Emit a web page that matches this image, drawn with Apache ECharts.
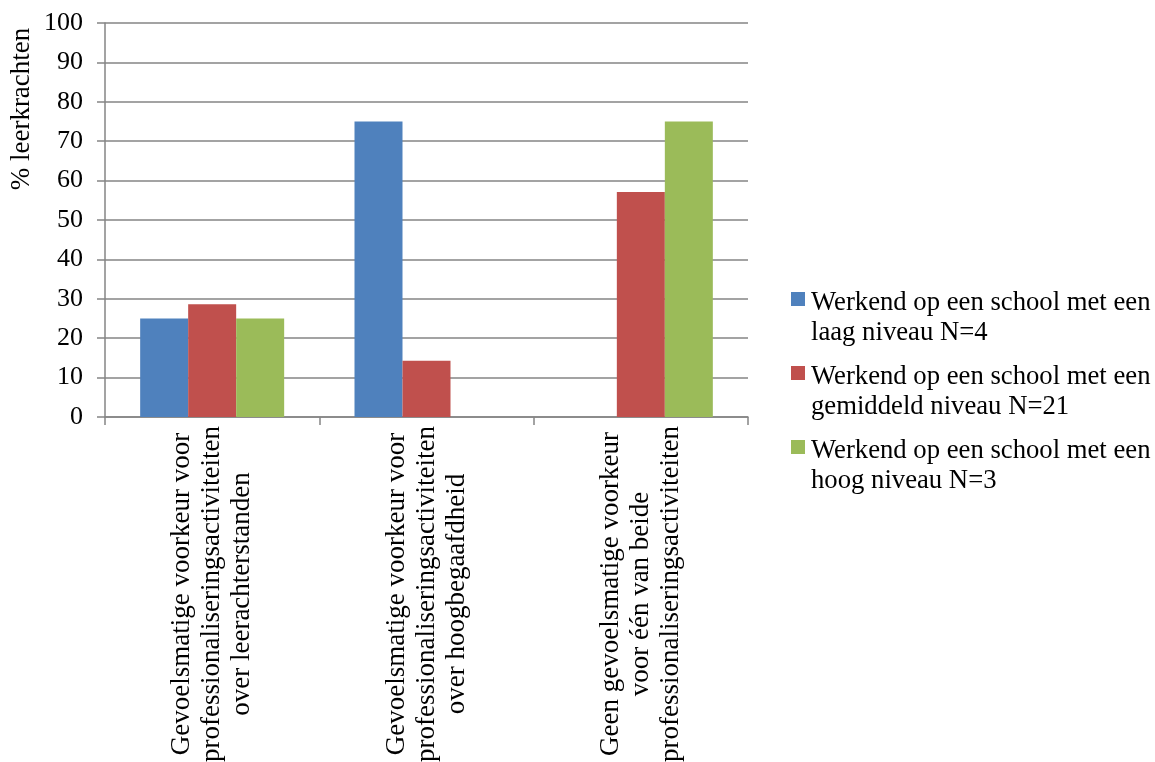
<!DOCTYPE html>
<html>
<head>
<meta charset="utf-8">
<script src="https://cdn.jsdelivr.net/npm/echarts@6/dist/echarts.min.js"></script>
<style>
  html, body { margin: 0; padding: 0; background: #ffffff; }
  #chart { width: 1155px; height: 762px; }
</style>
</head>
<body>
<div id="chart"></div>
<script>
// Categories (multi-line axis labels)
const categories = [
  'Gevoelsmatige voorkeur voor\nprofessionaliseringsactiviteiten\nover leerachterstanden',
  'Gevoelsmatige voorkeur voor\nprofessionaliseringsactiviteiten\nover hoogbegaafdheid',
  'Geen gevoelsmatige voorkeur\nvoor één van beide\nprofessionaliseringsactiviteiten'
];

// Series names (two-line legend entries)
const seriesNames = [
  'Werkend op een school met een\nlaag niveau N=4',
  'Werkend op een school met een\ngemiddeld niveau N=21',
  'Werkend op een school met een\nhoog niveau N=3'
];

// Percentages per series, one value per category
const laagValues = [25, 75, 0];
const gemiddeldValues = [28.6, 14.3, 57.1];
const hoogValues = [25, 0, 75];

const seriesColors = ['#4F81BD', '#C0504D', '#9BBB59'];
const yTicks = { min: 0, max: 100, interval: 10 };
const yTitle = '% leerkrachten';

const FONT = '"Liberation Serif", "Times New Roman", serif';
const FONT_SIZE = 27;
const GRID_COLOR = '#858585';

const seriesValues = [laagValues, gemiddeldValues, hoogValues];

// Legend drawn as rect + text pairs so the swatch lines up with the first text line
const legendGraphics = [];
seriesNames.forEach(function (name, i) {
  const top = 288 + i * 74;
  legendGraphics.push({
    type: 'rect',
    left: 791,
    top: top + 4,
    shape: { width: 14, height: 14 },
    style: { fill: seriesColors[i] }
  });
  legendGraphics.push({
    type: 'text',
    left: 811,
    top: top,
    style: {
      text: name,
      font: '26.7px ' + FONT,
      lineHeight: 30,
      fill: '#000000'
    }
  });
});

const chart = echarts.init(document.getElementById('chart'), null, { renderer: 'canvas' });

chart.setOption({
  animation: false,
  backgroundColor: '#ffffff',
  grid: {
    left: 105, right: 407, top: 23, bottom: 345,
    containLabel: false,
    outerBoundsMode: 'none'
  },
  xAxis: {
    type: 'category',
    data: categories,
    axisLine: { show: true, lineStyle: { color: GRID_COLOR, width: 1.5 } },
    axisTick: { show: true, length: 8, interval: 0, lineStyle: { color: GRID_COLOR, width: 1.5 } },
    axisLabel: {
      interval: 0,
      rotate: 90,
      align: 'center',
      verticalAlign: 'middle',
      margin: 177,
      fontFamily: FONT,
      fontSize: FONT_SIZE,
      lineHeight: 30,
      color: '#000000',
      hideOverlap: false
    },
    splitLine: { show: false }
  },
  yAxis: {
    type: 'value',
    min: yTicks.min,
    max: yTicks.max,
    interval: yTicks.interval,
    axisLine: { show: true, lineStyle: { color: GRID_COLOR, width: 1.5 } },
    axisTick: { show: true, length: 8, lineStyle: { color: GRID_COLOR, width: 1.5 } },
    axisLabel: {
      margin: 22,
      fontFamily: FONT,
      fontSize: 26,
      color: '#000000'
    },
    splitLine: { show: true, lineStyle: { color: GRID_COLOR, width: 1.5 } }
  },
  series: seriesNames.map(function (name, i) {
    return {
      name: name,
      type: 'bar',
      data: seriesValues[i],
      barWidth: 48,
      barGap: '0%',
      itemStyle: { color: seriesColors[i] }
    };
  }),
  graphic: [
    {
      type: 'text',
      x: 22,
      y: 109,
      rotation: Math.PI / 2,
      style: {
        text: yTitle,
        font: FONT_SIZE + 'px ' + FONT,
        fill: '#000000',
        align: 'center',
        verticalAlign: 'middle'
      }
    }
  ].concat(legendGraphics)
});
</script>
</body>
</html>
